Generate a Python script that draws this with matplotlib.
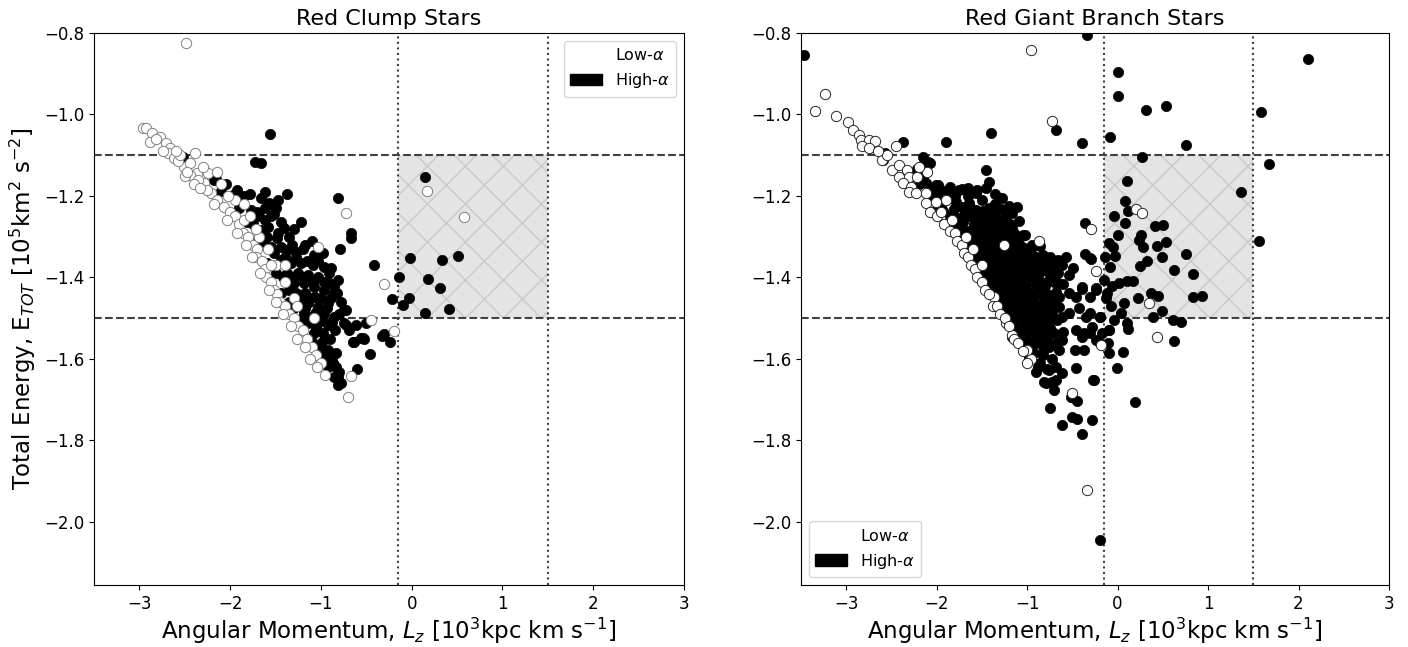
import numpy as np
import matplotlib
matplotlib.use("Agg")
import matplotlib.pyplot as plt
from matplotlib.patches import Rectangle, Patch

# ---------------- data (Lz [10^3 kpc km/s], E_tot [10^5 km^2/s^2]) ----------------
rc_high = [
    (-1.56, -1.048), (-1.73, -1.117), (-1.66, -1.12), (-1.37, -1.195), (-0.81, -1.205),
    (-2.52, -1.104), (-2.16, -1.158), (-2.05, -1.17), (-2.10, -1.188), (-2.00, -1.20),
    (-1.88, -1.21), (-1.22, -1.264), (-0.67, -1.29), (-0.67, -1.303), (-0.79, -1.33),
    (-0.41, -1.369), (-0.14, -1.40), (-0.22, -1.452), (-0.10, -1.467), (-0.02, -1.352),
    (0.18, -1.404), (0.15, -1.487), (0.15, -1.153), (0.33, -1.357), (0.51, -1.347),
    (0.31, -1.426), (-0.03, -1.45), (0.41, -1.478), (-0.31, -1.54), (-0.24, -1.558),
    (-0.46, -1.588), (-0.60, -1.625), (-0.78, -1.659), (-0.81, -1.645), (-0.50, -1.512),
    (-0.56, -1.548), (-0.65, -1.558), (-0.33, -1.544), (-0.53, -1.551),
    (-2.18, -1.161), (-1.97, -1.198), (-1.66, -1.205), (-1.57, -1.217), (-1.77, -1.234),
    (-1.70, -1.239), (-1.81, -1.264), (-1.55, -1.25), (-1.44, -1.264), (-1.41, -1.279),
    (-1.66, -1.283), (-1.59, -1.30), (-1.48, -1.303), (-1.70, -1.308), (-1.55, -1.325),
    (-1.44, -1.325), (-1.37, -1.333), (-1.28, -1.337), (-1.08, -1.345), (-0.98, -1.34),
    (-1.59, -1.364), (-1.44, -1.357), (-1.33, -1.364), (-1.22, -1.364), (-1.09, -1.369),
    (-0.97, -1.374), (-0.89, -1.377), (-1.37, -1.389), (-1.25, -1.389), (-1.14, -1.394),
    (-1.03, -1.399), (-0.92, -1.411), (-0.81, -1.406), (-1.44, -1.438), (-1.30, -1.414),
    (-1.19, -1.414), (-1.08, -1.423), (-0.97, -1.431), (-0.86, -1.438), (-1.28, -1.438),
    (-1.17, -1.438), (-1.06, -1.448), (-1.25, -1.463), (-1.14, -1.463), (-1.03, -1.472),
    (-0.92, -1.463), (-0.75, -1.48), (-1.19, -1.487), (-1.08, -1.492), (-0.97, -1.487),
    (-0.86, -1.497), (-1.14, -1.512), (-1.03, -1.512), (-0.92, -1.517), (-0.72, -1.517),
    (-0.61, -1.517), (-1.08, -1.536), (-0.98, -1.536), (-1.11, -1.553), (-1.00, -1.561),
    (-1.03, -1.583), (-0.92, -1.578), (-0.83, -1.585), (-0.97, -1.602), (-0.87, -1.61),
    (-0.92, -1.619), (-0.80, -1.632), (-0.86, -1.644), (-0.81, -1.664), (-0.64, -1.558),
    (-0.54, -1.548), (-0.75, -1.512), (-0.72, -1.48), (-0.82, -1.438), (-1.85, -1.20),
    (-1.56, -1.22), (-1.50, -1.23), (-1.35, -1.30), (-1.20, -1.33), (-1.10, -1.31),
    (-1.30, -1.28), (-1.62, -1.26), (-1.75, -1.27), (-1.90, -1.23), (-1.50, -1.39),
    (-1.35, -1.46), (-1.20, -1.50), (-0.90, -1.55), (-0.85, -1.53),
    (-1.62, -1.23), (-1.52, -1.245), (-1.47, -1.29), (-1.63, -1.32), (-1.52, -1.34),
    (-1.40, -1.35), (-1.27, -1.35), (-1.15, -1.36), (-1.03, -1.36), (-1.42, -1.40),
    (-1.31, -1.40), (-1.20, -1.40), (-1.09, -1.41), (-0.97, -1.41), (-1.35, -1.43),
    (-1.22, -1.45), (-1.11, -1.45), (-1.00, -1.45), (-0.89, -1.45), (-1.30, -1.475),
    (-1.17, -1.475), (-1.05, -1.485), (-0.93, -1.475), (-0.80, -1.49), (-1.10, -1.50),
    (-0.99, -1.50), (-0.88, -1.51), (-1.05, -1.525), (-0.95, -1.55), (-1.06, -1.57),
    (-0.96, -1.585), (-0.88, -1.595), (-0.83, -1.62), (-1.93, -1.185), (-1.78, -1.195),
    (-1.62, -1.19), (-1.47, -1.21), (-1.68, -1.25), (-1.58, -1.275), (-1.32, -1.32),
    (-1.17, -1.32), (-0.91, -1.39), (-0.86, -1.42), (-0.78, -1.46), (-0.69, -1.53),
]

rc_low = [
    (-2.49, -0.825), (-2.96, -1.033), (-2.93, -1.032), (-2.86, -1.045), (-2.88, -1.067),
    (-2.77, -1.055), (-2.71, -1.07), (-2.66, -1.082), (-2.68, -1.095), (-2.39, -1.095),
    (-2.62, -1.107), (-2.51, -1.128), (-2.44, -1.12), (-2.36, -1.144), (-2.44, -1.148),
    (-2.24, -1.144), (-2.14, -1.141), (-2.29, -1.168), (-2.21, -1.193), (-2.14, -1.21),
    (-2.07, -1.227), (-2.26, -1.185), (-2.57, -1.115), (-2.35, -1.16), (-2.30, -1.13),
    (-2.55, -1.10), (-2.60, -1.09), (-2.00, -1.24), (-1.95, -1.25), (-1.90, -1.27),
    (-1.85, -1.26), (-1.86, -1.29), (-1.80, -1.30), (-1.75, -1.32), (-1.70, -1.33),
    (-1.72, -1.35), (-1.65, -1.36), (-1.62, -1.38), (-1.60, -1.40), (-1.55, -1.41),
    (-1.52, -1.43), (-1.48, -1.44), (-1.45, -1.46), (-1.40, -1.47), (-1.35, -1.49),
    (-1.30, -1.50), (-1.25, -1.52), (-1.20, -1.53), (-1.15, -1.55), (-1.10, -1.57),
    (-1.05, -1.59), (-1.00, -1.61), (-1.08, -1.50), (-1.95, -1.21), (-2.02, -1.20),
    (-1.78, -1.25), (-1.68, -1.30), (-1.58, -1.33), (-1.50, -1.37), (-1.40, -1.41),
    (-1.30, -1.45), (-1.85, -1.22), (-2.10, -1.17), (-1.03, -1.325), (-0.72, -1.242),
    (-0.30, -1.416), (-0.45, -1.504), (-0.20, -1.531), (0.17, -1.188), (0.58, -1.252),
    (-0.70, -1.693), (-0.67, -1.642), (-0.95, -1.64), (-1.55, -1.37), (-1.72, -1.28),
    (-2.40, -1.17), (-2.50, -1.15), (-1.26, -1.47), (-1.40, -1.37),
    (-2.82, -1.06), (-2.74, -1.09), (-2.47, -1.14), (-2.33, -1.18), (-2.18, -1.22),
    (-2.04, -1.26), (-1.93, -1.29), (-1.82, -1.32), (-1.76, -1.35), (-1.67, -1.39),
    (-1.57, -1.43), (-1.50, -1.46), (-1.42, -1.49), (-1.33, -1.52), (-1.26, -1.55),
    (-1.18, -1.57), (-1.12, -1.60), (-1.04, -1.62),
]

rgb_high = [
    # sparse / outliers
    (-3.47, -0.854), (-0.34, -0.805), (2.10, -0.865), (1.59, -0.994), (1.67, -1.121),
    (1.56, -1.31), (1.36, -1.19), (0.76, -1.075), (0.54, -0.98), (0.00, -0.895),
    (0.00, -0.955), (0.31, -0.99), (-0.08, -1.055), (-0.39, -1.07), (0.27, -1.104),
    (-1.40, -1.045), (-1.90, -1.067), (-2.37, -1.067), (-0.68, -1.038), (-0.19, -2.044),
    (0.19, -1.705), (-0.75, -1.72), (-0.62, -1.762), (-0.50, -1.742), (-0.45, -1.748),
    (-0.39, -1.784), (-0.28, -1.75), (-0.51, -1.693), (-0.45, -1.703), (-0.81, -1.656),
    (-0.72, -1.656), (-0.27, -1.652),
    # around / inside the box
    (0.10, -1.164), (0.08, -1.212), (0.11, -1.237), (-0.04, -1.249), (0.08, -1.266),
    (-0.36, -1.266), (0.00, -1.296), (0.41, -1.274), (0.50, -1.272), (0.26, -1.296),
    (0.24, -1.308), (0.28, -1.325), (0.53, -1.313), (0.44, -1.323), (-0.09, -1.315),
    (-0.05, -1.325), (0.49, -1.35), (0.76, -1.342), (0.32, -1.36), (0.25, -1.372),
    (-0.36, -1.342), (-0.29, -1.355), (-0.14, -1.35), (-0.03, -1.347), (-0.08, -1.374),
    (0.62, -1.382), (0.83, -1.391), (-0.15, -1.406), (-0.06, -1.421), (0.02, -1.414),
    (0.10, -1.409), (0.17, -1.409), (-0.24, -1.43), (-0.39, -1.428), (0.23, -1.45),
    (0.37, -1.438), (0.45, -1.445), (0.83, -1.448), (0.93, -1.445), (-0.13, -1.45),
    (-0.07, -1.47), (0.07, -1.463), (0.04, -1.487), (0.49, -1.482), (0.39, -1.497),
    (0.61, -1.504), (0.70, -1.509), (0.10, -1.512), (0.11, -1.526), (0.62, -1.556),
    (0.06, -1.583), (-0.09, -1.529), (-0.20, -1.497), (-0.28, -1.521), (-0.35, -1.497),
    (-0.10, -1.585), (-0.11, -1.561), (-0.37, -1.536), (-0.24, -1.553),
    # main clump
    (-1.46, -1.136), (-1.42, -1.166), (-2.15, -1.104), (-2.10, -1.117), (-2.15, -1.124),
    (-1.99, -1.173), (-1.88, -1.19), (-1.72, -1.183), (-1.56, -1.193), (-1.11, -1.227),
    (-1.25, -1.239), (-1.24, -1.259), (-1.34, -1.264), (-1.17, -1.276), (-1.27, -1.291),
    (-1.05, -1.296), (-1.12, -1.308), (-1.01, -1.333), (-0.83, -1.345), (-0.57, -1.35),
    (-0.31, -1.352), (-0.61, -1.369), (-0.49, -1.377), (-0.86, -1.369), (-0.74, -1.386),
    (-0.54, -1.394), (-0.76, -1.406), (-0.39, -1.423), (-0.24, -1.426), (-0.54, -1.438),
    (-0.65, -1.448), (-0.46, -1.448), (-0.31, -1.448), (-0.12, -1.438), (-0.43, -1.475),
    (-0.31, -1.487), (-0.20, -1.497), (-0.04, -1.504), (-0.54, -1.487), (-0.61, -1.497),
    (-0.46, -1.529), (-0.39, -1.546), (-0.31, -1.536), (-0.17, -1.536), (-0.09, -1.529),
    (-0.20, -1.561), (-0.47, -1.578), (-0.37, -1.578), (-0.65, -1.578), (-0.61, -1.553),
    (-0.74, -1.534), (-0.76, -1.571), (-0.83, -1.585), (-0.86, -1.546), (-0.01, -1.622),
    (-0.26, -1.652), (-0.46, -1.622), (-0.68, -1.652), (-0.61, -1.634), (-0.76, -1.627),
    (-0.90, -1.632), (-0.86, -1.61), (-0.98, -1.595), (-1.01, -1.578), (-0.79, -1.659),
    (-0.70, -1.676), (-0.50, -1.693), (-1.09, -1.561), (-1.17, -1.546),
    (-2.57, -1.095), (-2.59, -1.112), (-2.07, -1.119), (-2.15, -1.153), (-2.12, -1.168),
    (-2.01, -1.173), (-1.42, -1.23), (-1.64, -1.217), (-1.79, -1.215), (-1.95, -1.227),
    (-2.06, -1.203), (-2.01, -1.234), (-1.72, -1.227), (-1.56, -1.234),
    (-1.85, -1.25), (-1.75, -1.255), (-1.65, -1.25), (-1.55, -1.25), (-1.45, -1.255),
    (-1.35, -1.25), (-1.25, -1.255),
    (-1.75, -1.28), (-1.65, -1.285), (-1.55, -1.28), (-1.45, -1.28), (-1.35, -1.285),
    (-1.25, -1.28), (-1.15, -1.29),
    (-1.68, -1.31), (-1.58, -1.315), (-1.48, -1.31), (-1.38, -1.31), (-1.28, -1.315),
    (-1.18, -1.31), (-1.08, -1.32), (-0.95, -1.32),
    (-1.60, -1.34), (-1.50, -1.345), (-1.40, -1.34), (-1.30, -1.34), (-1.20, -1.345),
    (-1.10, -1.34), (-1.00, -1.35), (-0.90, -1.35), (-0.75, -1.35),
    (-1.52, -1.37), (-1.42, -1.375), (-1.32, -1.37), (-1.22, -1.37), (-1.12, -1.375),
    (-1.02, -1.37), (-0.92, -1.38), (-0.82, -1.375), (-0.70, -1.37),
    (-1.45, -1.40), (-1.35, -1.405), (-1.25, -1.40), (-1.15, -1.40), (-1.05, -1.405),
    (-0.95, -1.40), (-0.85, -1.41), (-0.70, -1.41), (-0.60, -1.415),
    (-1.38, -1.43), (-1.28, -1.435), (-1.18, -1.43), (-1.08, -1.43), (-0.98, -1.435),
    (-0.88, -1.43), (-0.78, -1.44), (-0.68, -1.435),
    (-1.30, -1.46), (-1.20, -1.465), (-1.10, -1.46), (-1.00, -1.46), (-0.90, -1.465),
    (-0.80, -1.46), (-0.70, -1.47),
    (-1.22, -1.49), (-1.12, -1.495), (-1.02, -1.49), (-0.92, -1.49), (-0.82, -1.495),
    (-0.72, -1.49),
    (-1.15, -1.52), (-1.05, -1.525), (-0.95, -1.52), (-0.85, -1.52), (-0.75, -1.525),
    (-1.08, -1.55), (-0.98, -1.555), (-0.88, -1.55), (-0.78, -1.55), (-0.68, -1.56),
    (-0.92, -1.585), (-0.82, -1.59), (-0.72, -1.60),
    (-0.88, -1.62), (-0.78, -1.625), (-0.68, -1.62),
    (-2.25, -1.15), (-2.20, -1.17), (-2.10, -1.19), (-2.00, -1.20), (-1.90, -1.21),
    (-1.80, -1.20), (-1.65, -1.20), (-1.50, -1.21), (-1.35, -1.22), (-1.20, -1.225),
    (-1.93, -1.236), (-1.81, -1.232), (-1.69, -1.24), (-1.61, -1.233), (-1.49, -1.238),
    (-1.38, -1.24), (-1.29, -1.232), (-1.17, -1.242),
    (-1.79, -1.268), (-1.71, -1.264), (-1.59, -1.27), (-1.49, -1.262), (-1.41, -1.268),
    (-1.29, -1.266), (-1.19, -1.27), (-1.09, -1.262),
    (-1.71, -1.297), (-1.61, -1.293), (-1.51, -1.298), (-1.43, -1.295), (-1.31, -1.297),
    (-1.22, -1.293), (-1.13, -1.299), (-1.02, -1.296),
    (-1.64, -1.327), (-1.54, -1.323), (-1.44, -1.328), (-1.34, -1.322), (-1.24, -1.327),
    (-1.16, -1.322), (-1.04, -1.327), (-0.96, -1.33), (-0.86, -1.324),
    (-1.56, -1.357), (-1.46, -1.353), (-1.36, -1.358), (-1.26, -1.352), (-1.16, -1.357),
    (-1.06, -1.354), (-0.96, -1.36), (-0.88, -1.355), (-0.78, -1.36), (-0.66, -1.356),
    (-1.48, -1.387), (-1.39, -1.383), (-1.28, -1.388), (-1.18, -1.383), (-1.09, -1.388),
    (-0.98, -1.385), (-0.87, -1.39), (-0.78, -1.384), (-0.66, -1.39),
    (-1.41, -1.416), (-1.31, -1.413), (-1.21, -1.418), (-1.11, -1.414), (-1.01, -1.418),
    (-0.90, -1.415), (-0.80, -1.42), (-0.66, -1.414),
    (-1.33, -1.446), (-1.23, -1.443), (-1.13, -1.448), (-1.03, -1.444), (-0.93, -1.448),
    (-0.83, -1.445), (-0.73, -1.45),
    (-1.26, -1.476), (-1.15, -1.473), (-1.05, -1.478), (-0.96, -1.474), (-0.85, -1.478),
    (-0.75, -1.475), (-0.65, -1.472),
    (-1.17, -1.506), (-1.07, -1.503), (-0.97, -1.508), (-0.87, -1.504), (-0.77, -1.508),
    (-0.67, -1.505),
    (-1.10, -1.536), (-1.00, -1.533), (-0.90, -1.538), (-0.80, -1.534), (-0.70, -1.537),
    (-0.60, -1.533),
    (-1.02, -1.566), (-0.92, -1.563), (-0.82, -1.568), (-0.72, -1.565),
    (-2.05, -1.182), (-1.95, -1.185), (-1.85, -1.178), (-1.75, -1.186), (-1.65, -1.181),
    (-1.55, -1.186), (-1.46, -1.18), (-1.36, -1.195), (-1.28, -1.205), (-2.22, -1.135),
]

rgb_low = [
    (-0.96, -0.842), (-0.73, -1.016), (-3.24, -0.95), (-3.34, -0.991), (-3.11, -1.004),
    (-2.98, -1.018), (-0.34, -1.921), (0.20, -1.232), (0.27, -1.242), (-0.29, -1.281),
    (-0.24, -1.384), (0.35, -1.463), (0.43, -1.546), (-0.18, -1.566), (-0.87, -1.31),
    (-1.23, -1.512), (-1.17, -1.541), (-0.96, -1.60), (-1.00, -1.578), (-1.26, -1.32),
    (-1.37, -1.448), (-1.90, -1.21), (-0.50, -1.683),
    (-2.92, -1.038), (-2.86, -1.05), (-2.84, -1.063), (-2.75, -1.063), (-2.68, -1.065),
    (-2.83, -1.077), (-2.75, -1.082), (-2.45, -1.077), (-2.61, -1.112), (-2.49, -1.136),
    (-2.42, -1.124), (-2.33, -1.136), (-2.42, -1.153), (-2.31, -1.153), (-2.22, -1.153),
    (-2.37, -1.168), (-2.28, -1.178), (-2.31, -1.19), (-2.23, -1.193), (-2.12, -1.193),
    (-2.11, -1.141), (-2.20, -1.129), (-2.12, -1.218), (-2.01, -1.215), (-2.07, -1.239),
    (-2.00, -1.25), (-1.95, -1.24), (-1.92, -1.27), (-1.85, -1.285), (-1.80, -1.29),
    (-1.78, -1.31), (-1.72, -1.32), (-1.70, -1.34), (-1.65, -1.35), (-1.62, -1.37),
    (-1.58, -1.38), (-1.55, -1.40), (-1.50, -1.41), (-1.47, -1.43), (-1.42, -1.44),
    (-1.38, -1.47), (-1.33, -1.47), (-1.30, -1.49), (-1.25, -1.50), (-1.20, -1.52),
    (-1.15, -1.55), (-1.10, -1.56), (-1.05, -1.58), (-1.00, -1.61), (-1.83, -1.26),
    (-1.68, -1.30), (-1.60, -1.33), (-1.50, -1.37), (-2.55, -1.10), (-2.65, -1.09),
]

# selection box and reference lines
box_lz = [-0.15, 1.5]
box_e = [-1.5, -1.1]
titles = ["Red Clump Stars", "Red Giant Branch Stars"]
xticks = [-3, -2, -1, 0, 1, 2, 3]
yticks = [-2.0, -1.8, -1.6, -1.4, -1.2, -1.0, -0.8]

# ---------------- figure ----------------
W, H = 1408, 647
fig = plt.figure(figsize=(W / 100, H / 100), dpi=100)
ax1 = fig.add_axes([94 / W, 1 - 585 / H, 590 / W, 552 / H])
ax2 = fig.add_axes([801 / W, 1 - 585 / H, 588 / W, 552 / H])


def add_hatch(ax, x0, x1, y0, y1, spacing=38, color="#c9c9c9", lw=1.0):
    rect = Rectangle((x0, y0), x1 - x0, y1 - y0, facecolor="#e4e4e4",
                     edgecolor="none", zorder=0.5)
    ax.add_patch(rect)
    fig.canvas.draw()
    (dx0, dy0), (dx1, dy1) = ax.transData.transform([(x0, y0), (x1, y1)])
    inv = ax.transData.inverted()
    L = (dx1 - dx0) + (dy1 - dy0)
    for c in np.arange(-L, L, spacing):
        for sgn in (1, -1):
            p = [(dx0 + c, dy0), (dx0 + c + sgn * L, dy0 + L)]
            d = inv.transform(p)
            ln, = ax.plot(d[:, 0], d[:, 1], color=color, lw=lw, zorder=0.6)
            ln.set_clip_path(rect)


panels = [(ax1, rc_high, rc_low, "0.5"), (ax2, rgb_high, rgb_low, "0.15")]
for i, (ax, hi, lo, lo_edge) in enumerate(panels):
    ax.set_xlim(-3.5, 3)
    ax.set_ylim(-2.155, -0.8)
    ax.set_xticks(xticks)
    ax.set_yticks(yticks)
    ax.tick_params(labelsize=12)
    add_hatch(ax, box_lz[0], box_lz[1], box_e[0], box_e[1])
    for yv in box_e:
        ax.axhline(yv, color="0.25", ls="--", lw=1.5, zorder=1)
    for xv in box_lz:
        ax.axvline(xv, color="0.25", ls=":", lw=1.5, zorder=1)
    hx, hy = zip(*hi)
    lx, ly = zip(*lo)
    ax.scatter(hx, hy, s=55, c="black", edgecolors="black", linewidths=0.5, zorder=2)
    ax.scatter(lx, ly, s=55, c="white", edgecolors=lo_edge, linewidths=0.7, zorder=3)
    ax.set_title(titles[i], fontsize=16)
    ax.set_xlabel(r"Angular Momentum, $L_z$ [10$^3$kpc km s$^{-1}$]", fontsize=16.5,
                  labelpad=2)
    handles = [Patch(facecolor="white", edgecolor="white", label=r"Low-$\alpha$"),
               Patch(facecolor="black", edgecolor="black", label=r"High-$\alpha$")]
    ax.legend(handles=handles, loc="upper right" if i == 0 else "lower left",
              fontsize=11.5)

ax1.set_ylabel(r"Total Energy, E$_{TOT}$ [10$^5$km$^2$ s$^{-2}$]", fontsize=16.5)

fig.savefig("out.png", dpi=100)
